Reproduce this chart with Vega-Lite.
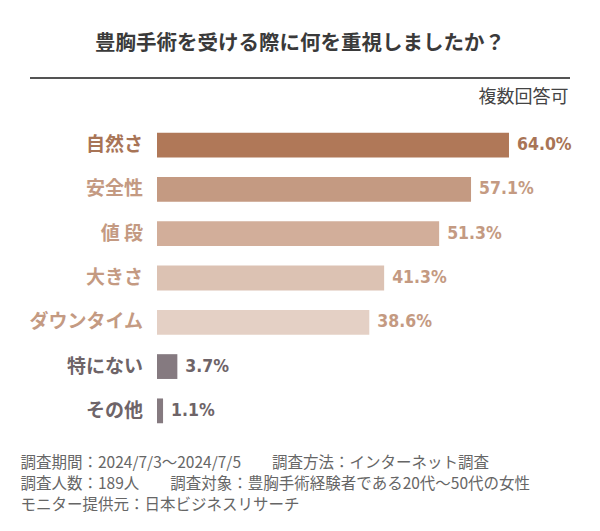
{
  "$schema": "https://vega.github.io/schema/vega-lite/v6.json",
  "width": 400,
  "height": 310,
  "autosize": "none",
  "padding": {"left": 157, "top": 123, "right": 43, "bottom": 98},
  "background": "white",
  "config": {"view": {"stroke": null}, "font": "Noto Sans CJK JP"},
  "title": {
    "text": "豊胸手術を受ける際に何を重視しましたか？",
    "anchor": "middle",
    "frame": "group",
    "dx": -57,
    "fontSize": 20.5,
    "font": "Noto Sans CJK JP",
    "fontWeight": "bold",
    "color": "#3a3a3a",
    "offset": 23
  },
  "data": {
    "values": [
      {"item": "自然さ", "share": 0.640},
      {"item": "安全性", "share": 0.571},
      {"item": "値 段", "share": 0.513},
      {"item": "大きさ", "share": 0.413},
      {"item": "ダウンタイム", "share": 0.386},
      {"item": "特にない", "share": 0.037},
      {"item": "その他", "share": 0.011}
    ]
  },
  "encoding": {
    "y": {
      "field": "item",
      "type": "nominal",
      "sort": null,
      "scale": {"paddingInner": 0.44, "paddingOuter": 0.22},
      "axis": {
        "labels": false, "ticks": false, "domain": false, "grid": false,
        "title": "複数回答可",
        "titleAngle": 0, "titleX": 411, "titleY": -26,
        "titleAlign": "right", "titleBaseline": "middle",
        "titleFontSize": 18, "titleFontWeight": "normal", "titleColor": "#444444",
        "titleFont": "Noto Sans CJK JP"
      }
    }
  },
  "layer": [
    {
      "mark": {"type": "bar"},
      "encoding": {
        "x": {
          "field": "share", "type": "quantitative",
          "scale": {"domain": [0, 0.7273], "nice": false, "zero": true},
          "axis": {
            "domain": false, "ticks": false, "labels": false, "grid": false,
            "title": [
              "調査期間：2024/7/3〜2024/7/5　　調査方法：インターネット調査",
              "調査人数：189人　　調査対象：豊胸手術経験者である20代〜50代の女性",
              "モニター提供元：日本ビジネスリサーチ"
            ],
            "titleX": -137, "titleY": 22,
            "titleAlign": "left", "titleAnchor": "start", "titleBaseline": "top",
            "titleFontSize": 15.5, "titleFontWeight": "normal", "titleColor": "#666666",
            "titleLineHeight": 21, "titleFont": "Noto Sans CJK JP"
          }
        },
        "fill": {
          "field": "item", "type": "nominal", "legend": null,
          "scale": {
            "domain": ["自然さ", "安全性", "値 段", "大きさ", "ダウンタイム", "特にない", "その他"],
            "range": ["#b07858", "#c49a82", "#d2ae9a", "#dcc2b3", "#e4d0c5", "#857a80", "#857a80"]
          }
        }
      }
    },
    {
      "mark": {"type": "text", "align": "right", "baseline": "middle", "dx": -14, "fontSize": 19, "fontWeight": "bold", "font": "Noto Sans CJK JP"},
      "encoding": {
        "x": {"datum": 0, "type": "quantitative"},
        "text": {"field": "item"},
        "color": {
          "field": "item", "type": "nominal", "legend": null,
          "scale": {
            "domain": ["自然さ", "安全性", "値 段", "大きさ", "ダウンタイム", "特にない", "その他"],
            "range": ["#a87456", "#c49a82", "#c49a82", "#c49a82", "#c49a82", "#6e6468", "#6e6468"]
          }
        }
      }
    },
    {
      "mark": {"type": "text", "align": "left", "baseline": "middle", "dx": 8, "fontSize": 17.5, "fontWeight": "bold", "font": "DejaVu Sans Condensed, DejaVu Sans, sans-serif"},
      "encoding": {
        "x": {"field": "share", "type": "quantitative"},
        "text": {"field": "share", "format": ".1%"},
        "color": {"field": "item", "type": "nominal", "legend": null}
      }
    },
    {
      "mark": {"type": "rule", "stroke": "#555555", "strokeWidth": 1.5, "clip": false},
      "encoding": {
        "x": {"value": -127},
        "x2": {"value": 413},
        "y": {"value": -45}
      }
    }
  ]
}
